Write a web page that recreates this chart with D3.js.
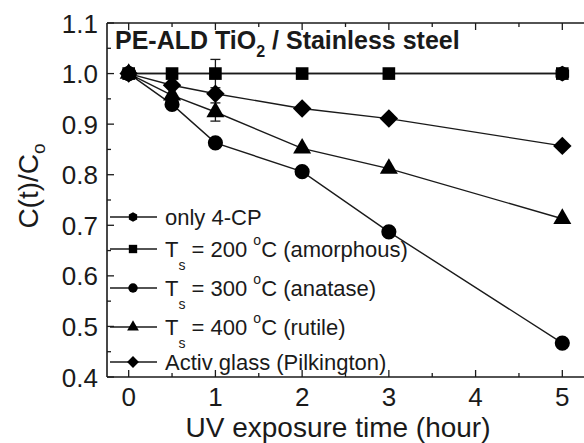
<!DOCTYPE html>
<html><head><meta charset="utf-8">
<script src="https://cdn.jsdelivr.net/npm/d3@7"></script>
<style>body{margin:0;background:#fff;} svg{display:block;font-family:"Liberation Sans",Arial,sans-serif;}</style>
</head><body>
<svg id="c" width="584" height="443"></svg>
<script>
// ---- data ----
const timesAll = [0, 0.5, 1, 2, 3, 5];
const times4CP = [0, 5];
const only4CP = [1.0, 1.0];
const ts200 = [1.0, 1.0, 1.0, 1.0, 1.0, 1.0];
const ts300 = [1.0, 0.939, 0.863, 0.806, 0.687, 0.467];
const ts400 = [1.0, 0.957, 0.924, 0.852, 0.812, 0.713];
const activ = [1.0, 0.977, 0.960, 0.931, 0.911, 0.857];
const err200 = [0, 0, 0.028, 0, 0, 0];
const err400 = [0, 0, 0.018, 0, 0, 0];
const xTicks = [0, 1, 2, 3, 4, 5];
const yTicks = [0.4, 0.5, 0.6, 0.7, 0.8, 0.9, 1.0, 1.1];

const svg = d3.select("#c");
const col = "#1a1a1a";
const x = d3.scaleLinear().domain([-0.25, 5.25]).range([107, 584]);
const y = d3.scaleLinear().domain([0.4, 1.1]).range([377, 23]);

// frame
const g = svg.append("g");
g.append("line").attr("x1", 107).attr("x2", 584).attr("y1", 377).attr("y2", 377).attr("stroke", col).attr("stroke-width", 1.6);
g.append("line").attr("x1", 107).attr("x2", 584).attr("y1", 23).attr("y2", 23).attr("stroke", col).attr("stroke-width", 1.6);
g.append("line").attr("x1", 107).attr("x2", 107).attr("y1", 23).attr("y2", 377).attr("stroke", col).attr("stroke-width", 1.6);

// x ticks (bottom & top), inward
const xMinor = d3.range(0, 5.01, 0.5);
xMinor.forEach(v => {
  const major = Math.abs(v - Math.round(v)) < 1e-6;
  const L = major ? 7 : 4;
  g.append("line").attr("x1", x(v)).attr("x2", x(v)).attr("y1", 377).attr("y2", 377 - L).attr("stroke", col).attr("stroke-width", 1.3);
  g.append("line").attr("x1", x(v)).attr("x2", x(v)).attr("y1", 23).attr("y2", 23 + L).attr("stroke", col).attr("stroke-width", 1.3);
});
g.selectAll(".xt").data(xTicks).enter().append("text")
  .attr("x", d => x(d)).attr("y", 406).attr("text-anchor", "middle")
  .attr("font-size", 26).attr("fill", col).text(d => d);

// y ticks
const yMinor = d3.range(0.4, 1.1001, 0.05);
yMinor.forEach((v, i) => {
  const L = i % 2 === 0 ? 7 : 4;
  g.append("line").attr("x1", 107).attr("x2", 107 + L).attr("y1", y(v)).attr("y2", y(v)).attr("stroke", col).attr("stroke-width", 1.3);
});
g.selectAll(".yt").data(yTicks).enter().append("text")
  .attr("x", 98).attr("y", d => y(d) + 9.5).attr("text-anchor", "end")
  .attr("font-size", 26).attr("fill", col).text(d => d.toFixed(1));

// axis titles
svg.append("text").attr("x", 338).attr("y", 437).attr("text-anchor", "middle")
  .attr("font-size", 28).attr("fill", col).text("UV exposure time (hour)");
const yt = svg.append("text").attr("transform", "translate(38,186) rotate(-90)")
  .attr("text-anchor", "middle").attr("font-size", 28).attr("fill", col);
yt.append("tspan").text("C(t)/C");
yt.append("tspan").attr("font-size", 19).attr("dy", 7).text("o");

// chart title
const tt = svg.append("text").attr("x", 115).attr("y", 49).attr("font-size", 25)
  .attr("font-weight", "bold").attr("fill", col);
tt.append("tspan").text("PE-ALD TiO");
tt.append("tspan").attr("font-size", 16).attr("dy", 8).text("2");
tt.append("tspan").attr("dy", -8).text(" / Stainless steel");

// custom symbols
const hexagon = {
  draw(ctx, size) {
    const r = Math.sqrt(size / (1.5 * Math.sqrt(3)));
    for (let i = 0; i < 6; i++) {
      const a = Math.PI / 2 + i * Math.PI / 3;
      const px = r * Math.cos(a), py = -r * Math.sin(a);
      i === 0 ? ctx.moveTo(px, py) : ctx.lineTo(px, py);
    }
    ctx.closePath();
  }
};
const diamond = {
  draw(ctx, size) {
    const r = Math.sqrt(size / 2);
    ctx.moveTo(0, -r); ctx.lineTo(r, 0); ctx.lineTo(0, r); ctx.lineTo(-r, 0); ctx.closePath();
  }
};
const series = [
  {name: "4cp", t: times4CP, v: only4CP, sym: hexagon, size: 160, lsize: 60},
  {name: "200", t: timesAll, v: ts200, sym: d3.symbolSquare, size: 160, lsize: 70},
  {name: "300", t: timesAll, v: ts300, sym: d3.symbolCircle, size: 180, lsize: 70},
  {name: "400", t: timesAll, v: ts400, sym: d3.symbolTriangle, size: 140, lsize: 60, err: err400},
  {name: "activ", t: timesAll, v: activ, sym: diamond, size: 170, lsize: 70}
];
series[1].err = err200;
const line = d3.line().x(d => x(d[0])).y(d => y(d[1]));
series.forEach(s => {
  const pts = s.t.map((t, i) => [t, s.v[i]]);
  svg.append("path").attr("d", line(pts)).attr("fill", "none").attr("stroke", col).attr("stroke-width", 1.4);
});
series.forEach(s => {
  const pts = s.t.map((t, i) => [t, s.v[i], s.err ? s.err[i] : 0]);
  pts.forEach(p => {
    if (p[2] > 0) {
      const cx = x(p[0]);
      svg.append("line").attr("x1", cx).attr("x2", cx).attr("y1", y(p[1] - p[2])).attr("y2", y(p[1] + p[2])).attr("stroke", col).attr("stroke-width", 1.3);
      [p[1] - p[2], p[1] + p[2]].forEach(e => svg.append("line").attr("x1", cx - 5).attr("x2", cx + 5).attr("y1", y(e)).attr("y2", y(e)).attr("stroke", col).attr("stroke-width", 1.3));
    }
  });
  svg.selectAll(null).data(pts).enter().append("path")
    .attr("d", d3.symbol().type(s.sym).size(s.size))
    .attr("transform", d => `translate(${x(d[0])},${y(d[1])})`)
    .attr("fill", "#000");
});

// legend
const legY = [217, 249, 288, 327, 362];
const legLabels = [
  [["only 4-CP", 0, 0]],
  [["T", 0, 0], ["s", 13, 14], [" = 200 ", -13, 22], ["o", -12, 14], ["C (amorphous)", 12, 22]],
  [["T", 0, 0], ["s", 13, 14], [" = 300 ", -13, 22], ["o", -12, 14], ["C (anatase)", 12, 22]],
  [["T", 0, 0], ["s", 13, 14], [" = 400 ", -13, 22], ["o", -12, 14], ["C (rutile)", 12, 22]],
  [["Activ glass (Pilkington)", 0, 0]]
];
series.forEach((s, i) => {
  const ly = legY[i];
  svg.append("line").attr("x1", 110).attr("x2", 157).attr("y1", ly).attr("y2", ly).attr("stroke", col).attr("stroke-width", 1.4);
  svg.append("path").attr("d", d3.symbol().type(s.sym).size(s.lsize)).attr("transform", `translate(133,${ly})`).attr("fill", "#000");
  const t = svg.append("text").attr("x", 165).attr("y", ly + 8).attr("font-size", 22).attr("fill", col);
  legLabels[i].forEach(([txt, dy, fs]) => {
    const sp = t.append("tspan").text(txt);
    if (dy) sp.attr("dy", dy);
    if (fs && fs !== 22) sp.attr("font-size", fs);
  });
});
</script>
</body></html>
